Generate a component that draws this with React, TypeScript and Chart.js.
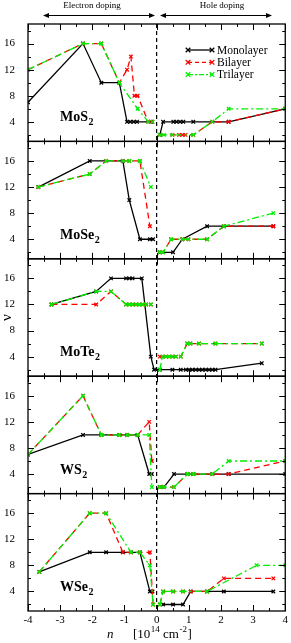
import React, { useEffect, useRef } from "react";
import { Chart, registerables } from "chart.js";
Chart.register(...registerables);

type P = [number, number] | null;

const panelBase = ["MoS", "MoSe", "MoTe", "WS", "WSe"];
const panelSub = ["2", "2", "2", "2", "2"];
const seriesNames = ["Monolayer", "Bilayer", "Trilayer"];
const seriesColors = ["#000000", "#ff0000", "#00ee00"];
const xTickValues = [-4, -3, -2, -1, 0, 1, 2, 3, 4];
const yTickValues = [4, 8, 12, 16];

// MoS2
const mos2Mono: P[] = [[-4, 7], [-2.29, 16], [-1.72, 10], [-1.16, 10], [-0.92, 4], [-0.82, 4], [-0.71, 4], [-0.61, 4], [-0.18, 4], null, [0.1, 2], [0.2, 4], [0.52, 4], [0.62, 4], [0.73, 4], [0.83, 4], [1.14, 4], [2.24, 4], [4, 6]];
const mos2Bi: P[] = [[-4, 12], [-2.29, 16], [-1.72, 16], [-1.16, 10], [-0.92, 12], [-0.8, 14], [-0.69, 8], [-0.59, 8], [-0.26, 4], [-0.13, 4], null, [0.1, 2], [0.49, 2], [0.7, 2], [0.8, 2], [0.9, 2], [1.14, 2], [1.73, 4], [2.24, 4], [4, 6]];
const mos2Tri: P[] = [[-4, 12], [-2.29, 16], [-1.72, 16], [-1.16, 10], [-0.59, 6], [-0.26, 4], [-0.13, 4], null, [0.1, 2], [0.23, 2], [0.49, 2], [1.14, 2], [1.73, 4], [2.24, 6], [4, 6]];
// MoSe2
const mose2Mono: P[] = [[-3.68, 12], [-2.08, 16], [-1.05, 16], [-0.85, 10], [-0.52, 4], [-0.21, 4], [-0.11, 4], null, [0.1, 2], [0.51, 2], [0.8, 4], [1.57, 6], [2.09, 6], [3.63, 6]];
const mose2Bi: P[] = [[-3.68, 12], [-2.08, 14], [-1.57, 16], [-1.05, 16], [-0.85, 16], [-0.52, 16], [-0.21, 6], null, [0.1, 2], [0.2, 2], [0.45, 4], [0.8, 4], [0.99, 4], [1.57, 4], [2.09, 6], [3.63, 6]];
const mose2Tri: P[] = [[-3.68, 12], [-2.08, 14], [-1.57, 16], [-1.05, 16], [-0.85, 16], [-0.52, 16], [-0.18, 12], null, [0.1, 2], [0.2, 2], [0.45, 4], [0.8, 4], [0.99, 4], [1.57, 4], [2.09, 6], [3.63, 8]];
// MoTe2
const mote2Mono: P[] = [[-3.27, 12], [-1.88, 14], [-1.42, 16], [-0.95, 16], [-0.85, 16], [-0.75, 16], [-0.46, 16], [-0.18, 4], [-0.08, 2], [0.1, 2], [0.49, 2], [0.75, 2], [0.91, 2], [1.01, 2], [1.11, 2], [1.22, 2], [1.32, 2], [1.42, 2], [1.53, 2], [1.63, 2], [1.73, 2], [1.83, 2], [3.27, 3]];
const mote2Bi: P[] = [[-3.27, 12], [-1.88, 12], [-1.42, 14], [-0.95, 12], [-0.85, 12], [-0.74, 12], [-0.64, 12], [-0.54, 12], [-0.43, 12], [-0.33, 12], [-0.18, 12], null, [0.1, 4], [0.18, 4], [0.29, 4], [0.39, 4], [0.49, 4], [0.6, 4], [0.75, 4], [0.95, 6], [1.05, 6], [1.32, 6], [1.83, 6], [3.27, 6]];
const mote2Tri: P[] = [[-3.27, 12], [-1.88, 14], [-1.42, 14], [-0.95, 12], [-0.85, 12], [-0.74, 12], [-0.64, 12], [-0.54, 12], [-0.43, 12], [-0.33, 12], [-0.18, 12], null, [0.1, 2], [0.18, 4], [0.29, 4], [0.39, 4], [0.49, 4], [0.6, 4], [0.75, 4], [0.95, 6], [1.05, 6], [1.32, 6], [1.83, 6], [3.27, 6]];
// WS2
const ws2Mono: P[] = [[-4, 7], [-2.29, 10], [-1.72, 10], [-1.16, 10], [-0.92, 10], [-0.59, 10], [-0.23, 4], [-0.15, 4], null, [0.1, 2], [0.23, 2], [0.54, 4], [0.96, 4], [1.14, 4], [1.73, 4], [2.24, 4], [4, 4]];
const ws2Bi: P[] = [[-4, 7], [-2.29, 16], [-1.72, 10], [-1.16, 10], [-0.92, 10], [-0.59, 10], [-0.23, 12], [-0.15, 6], null, [0.1, 2], [0.23, 2], [0.54, 2], [0.96, 4], [1.14, 4], [1.73, 4], [2.24, 4], [4, 6]];
const ws2Tri: P[] = [[-4, 7], [-2.29, 16], [-1.72, 10], [-1.16, 10], [-0.92, 10], [-0.59, 10], [-0.23, 10], [-0.15, 2], null, [0.1, 2], [0.23, 2], [0.54, 2], [0.96, 4], [1.14, 4], [1.73, 4], [2.24, 6], [4, 6]];
// WSe2
const wse2Mono: P[] = [[-3.65, 7], [-2.08, 10], [-1.57, 10], [-1.05, 10], [-0.8, 10], [-0.52, 10], [-0.21, 4], [-0.13, 4], null, [0.2, 2], [0.51, 2], [0.82, 2], [1.06, 4], [1.57, 4], [2.09, 4], [3.63, 4]];
const wse2Bi: P[] = [[-3.65, 7], [-2.08, 16], [-1.57, 16], [-1.05, 10], [-0.8, 10], [-0.52, 10], [-0.21, 10], [-0.11, 2], null, [0.1, 2], [0.2, 4], [0.51, 4], [0.82, 4], [1.06, 4], [1.57, 4], [2.09, 6], [3.63, 6]];
const wse2Tri: P[] = [[-3.65, 7], [-2.08, 16], [-1.57, 16], [-0.8, 10], [-0.52, 10], [-0.21, 8], [-0.11, 2], null, [0.1, 2], [0.2, 4], [0.51, 4], [0.82, 4], [1.57, 4], [3.11, 8], [4, 8]];

const panelSeries: P[][][] = [
  [mos2Mono, mos2Bi, mos2Tri],
  [mose2Mono, mose2Bi, mose2Tri],
  [mote2Mono, mote2Bi, mote2Tri],
  [ws2Mono, ws2Bi, ws2Tri],
  [wse2Mono, wse2Bi, wse2Tri],
];

const FONT = "'Liberation Serif', 'Times New Roman', serif";
const dashes = [[], [6, 4], [7, 3, 2, 3]];

function drawMarker(ctx: CanvasRenderingContext2D, x: number, y: number, color: string) {
  const r = 2.3;
  ctx.save();
  ctx.setLineDash([]);
  ctx.strokeStyle = color;
  ctx.lineWidth = 1.3;
  ctx.beginPath();
  ctx.moveTo(x - r, y - r); ctx.lineTo(x + r, y + r);
  ctx.moveTo(x - r, y + r); ctx.lineTo(x + r, y - r);
  ctx.stroke();
  ctx.restore();
}

function arrowHead(ctx: CanvasRenderingContext2D, x: number, y: number, dir: number) {
  ctx.beginPath();
  ctx.moveTo(x, y);
  ctx.lineTo(x - dir * 6, y - 2.5);
  ctx.lineTo(x - dir * 6, y + 2.5);
  ctx.closePath();
  ctx.fill();
}

const deco = {
  id: "deco",
  beforeDatasetsDraw(chart: any) {
    const { ctx, chartArea } = chart;
    const x0 = chart.scales.x.getPixelForValue(0);
    ctx.save();
    ctx.strokeStyle = "#000";
    ctx.lineWidth = 1.2;
    ctx.setLineDash([4, 3]);
    ctx.beginPath();
    ctx.moveTo(x0, chartArea.top);
    ctx.lineTo(x0, chartArea.bottom);
    ctx.stroke();
    ctx.restore();
  },
  afterDraw(chart: any) {
    const { ctx, chartArea } = chart;
    const xs = chart.scales.x;
    const L = chartArea.left, R = chartArea.right;
    ctx.save();
    ctx.strokeStyle = "#000";
    ctx.fillStyle = "#000";
    ctx.setLineDash([]);
    for (let i = 0; i < panelBase.length; i++) {
      const s = chart.scales["y" + i];
      const T = s.top, B = s.bottom;
      ctx.lineWidth = 1.3;
      ctx.strokeRect(L, T, R - L, B - T);
      ctx.lineWidth = 1;
      ctx.beginPath();
      for (let v = 2; v <= 18; v += 2) {
        const y = Math.round(s.getPixelForValue(v)) + 0.5;
        const len = v % 4 === 0 ? 6 : 3;
        ctx.moveTo(L, y); ctx.lineTo(L + len, y);
        ctx.moveTo(R, y); ctx.lineTo(R - len, y);
      }
      for (let k = -8; k <= 8; k++) {
        const v = k / 2;
        const x = Math.round(xs.getPixelForValue(v)) + 0.5;
        const len = k % 2 === 0 ? 6 : 3;
        ctx.moveTo(x, T); ctx.lineTo(x, T + len);
        ctx.moveTo(x, B); ctx.lineTo(x, B - len);
      }
      ctx.stroke();
      // panel label
      ctx.font = `bold 14px ${FONT}`;
      ctx.textAlign = "left";
      ctx.textBaseline = "alphabetic";
      const bx = L + 32;
      const by = B - 20;
      ctx.fillText(panelBase[i], bx, by);
      const w = ctx.measureText(panelBase[i]).width;
      ctx.font = `bold 10px ${FONT}`;
      ctx.fillText(panelSub[i], bx + w + 0.5, by + 4);
    }
    // legend in top panel
    const s0 = chart.scales.y0;
    ctx.font = `11.5px ${FONT}`;
    ctx.textBaseline = "middle";
    for (let j = 0; j < seriesNames.length; j++) {
      const y = s0.top + 26 + j * 12.3;
      ctx.save();
      ctx.strokeStyle = seriesColors[j];
      ctx.lineWidth = 1.3;
      ctx.setLineDash(j === 0 ? [] : j === 1 ? [4, 3] : [5, 2, 2, 2]);
      ctx.beginPath();
      ctx.moveTo(188, y); ctx.lineTo(212, y);
      ctx.stroke();
      ctx.restore();
      drawMarker(ctx, 188, y, seriesColors[j]);
      drawMarker(ctx, 212, y, seriesColors[j]);
      ctx.fillStyle = "#000";
      ctx.fillText(seriesNames[j], 217, y + 0.5);
    }
    // header
    ctx.font = `9px ${FONT}`;
    ctx.textAlign = "center";
    ctx.textBaseline = "middle";
    ctx.fillText("Electron doping", 92, 6);
    ctx.fillText("Hole doping", 222, 6);
    ctx.lineWidth = 1;
    ctx.beginPath();
    ctx.moveTo(45, 15.5); ctx.lineTo(153, 15.5);
    ctx.moveTo(162, 15.5); ctx.lineTo(270, 15.5);
    ctx.stroke();
    arrowHead(ctx, 43, 15.5, -1);
    arrowHead(ctx, 155, 15.5, 1);
    arrowHead(ctx, 160, 15.5, -1);
    arrowHead(ctx, 272, 15.5, 1);
    // y title
    ctx.save();
    ctx.translate(7, (chartArea.top + chartArea.bottom) / 2);
    ctx.rotate(-Math.PI / 2);
    ctx.font = `15px ${FONT}`;
    ctx.textAlign = "center";
    ctx.textBaseline = "middle";
    ctx.fillText("ν", 0, 0);
    ctx.restore();
    // x title
    ctx.textAlign = "left";
    ctx.textBaseline = "alphabetic";
    const by = 638;
    let x = 107;
    ctx.font = `italic 13px ${FONT}`;
    ctx.fillText("n", x, by);
    x = 133;
    ctx.font = `13px ${FONT}`;
    ctx.fillText("[10", x, by); x += ctx.measureText("[10").width + 0.5;
    ctx.font = `9px ${FONT}`;
    ctx.fillText("14", x, by - 6); x += ctx.measureText("14").width;
    ctx.font = `13px ${FONT}`;
    ctx.fillText(" cm", x, by); x += ctx.measureText(" cm").width + 0.5;
    ctx.font = `9px ${FONT}`;
    ctx.fillText("-2", x, by - 6); x += ctx.measureText("-2").width + 0.5;
    ctx.font = `13px ${FONT}`;
    ctx.fillText("]", x, by);
    ctx.restore();
  },
};

export default function App() {
  const ref = useRef<HTMLCanvasElement | null>(null);
  useEffect(() => {
    document.body.style.margin = "0";
    Chart.defaults.font.family = FONT;
    Chart.defaults.color = "#000";
    const datasets: any[] = [];
    panelSeries.forEach((series, i) => {
      series.forEach((pts, j) => {
        datasets.push({
          label: panelBase[i] + panelSub[i] + " " + seriesNames[j],
          data: pts.map((p) => (p ? { x: p[0], y: p[1] } : { x: 0, y: null })),
          yAxisID: "y" + i,
          xAxisID: "x",
          borderColor: seriesColors[j],
          backgroundColor: seriesColors[j],
          borderWidth: 1.3,
          borderDash: dashes[j],
          pointStyle: "crossRot",
          pointRadius: 2.5,
          pointBorderWidth: 1.3,
          pointBorderColor: seriesColors[j],
          tension: 0,
          spanGaps: false,
          fill: false,
          order: 2 - j,
        });
      });
    });
    const scales: any = {
      x: {
        type: "linear",
        position: "bottom",
        min: -4,
        max: 4,
        afterBuildTicks: (s: any) => {
          s.ticks = xTickValues.map((v) => ({ value: v }));
        },
        ticks: { padding: 3, color: "#000", font: { size: 11, family: FONT }, autoSkip: false, maxRotation: 0 },
        grid: { display: false, drawTicks: false },
        border: { display: false },
        afterFit: (s: any) => {
          s.height = 32;
        },
      },
    };
    for (let i = panelBase.length - 1; i >= 0; i--) {
      scales["y" + i] = {
        type: "linear",
        position: "left",
        stack: "panels",
        stackWeight: 1,
        min: 1,
        max: 19,
        afterBuildTicks: (s: any) => {
          s.ticks = yTickValues.map((v) => ({ value: v }));
        },
        ticks: { padding: 13, color: "#000", font: { size: 11, family: FONT } },
        grid: { display: false, drawTicks: false },
        border: { display: false },
        afterFit: (s: any) => {
          s.width = 28;
        },
      };
    }
    const chart = new Chart(ref.current as HTMLCanvasElement, {
      type: "line",
      data: { datasets },
      options: {
        animation: false,
        responsive: false,
        maintainAspectRatio: false,
        layout: { padding: { left: 0, right: 4, top: 24, bottom: 0 } },
        plugins: { legend: { display: false }, tooltip: { enabled: false } },
        scales,
      },
      plugins: [deco],
    } as any);
    return () => chart.destroy();
  }, []);
  return (
    <div style={{ width: 291, height: 643, background: "#fff" }}>
      <canvas ref={ref} width={291} height={643} style={{ display: "block" }} />
    </div>
  );
}
